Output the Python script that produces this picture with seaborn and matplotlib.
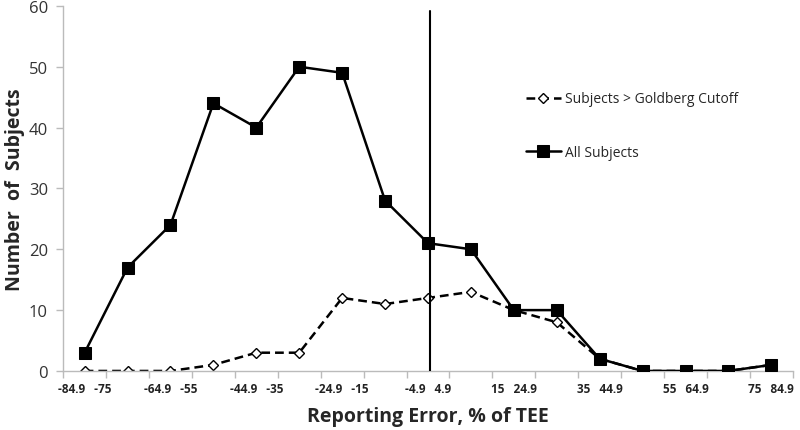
import matplotlib
matplotlib.use("Agg")
import matplotlib.pyplot as plt
import seaborn as sns
import numpy as np
import pandas as pd

bins = ["-84.9   -75", "-74.9   -65", "-64.9   -55", "-54.9   -45", "-44.9   -35",
        "-34.9   -25", "-24.9   -15", "-14.9   -5", "-4.9   4.9", "5   14.9",
        "15   24.9", "25   34.9", "35   44.9", "45   54.9", "55   64.9",
        "65   74.9", "75   84.9"]
all_subjects = [3, 17, 24, 44, 40, 50, 49, 28, 21, 20, 10, 10, 2, 0, 0, 0, 1]
goldberg = [0, 0, 0, 1, 3, 3, 12, 11, 12, 13, 10, 8, 2, 0, 0, 0, 1]

sns.set_theme(style="white")
plt.rcParams['font.family'] = ['Open Sans', 'DejaVu Sans']

fig = plt.figure(figsize=(8, 4.31), dpi=100)
ax = fig.add_axes([0.079, 0.137, 0.912, 0.847])

idx = np.arange(len(bins))
df = pd.DataFrame({"i": idx, "all": all_subjects, "gold": goldberg})

sns.lineplot(data=df, x="i", y="gold", ax=ax, color="black", lw=1.8,
             linestyle=(0, (3.5, 2)), marker="D", markersize=5.5,
             markerfacecolor="white", markeredgecolor="black", markeredgewidth=1,
             label="Subjects > Goldberg Cutoff", zorder=2)
sns.lineplot(data=df, x="i", y="all", ax=ax, color="black", lw=1.8,
             marker="s", markersize=8, markerfacecolor="black",
             markeredgecolor="black", label="All Subjects", zorder=3)

ax.axvline(8.05, color="black", lw=1.5, ymin=0, ymax=0.985, zorder=4)

ax.set_xlim(-0.5, len(bins) - 0.5)
ax.set_ylim(0, 60)
ax.set_yticks(range(0, 61, 10))
ax.set_xticks(idx[::2])
ax.set_xticklabels(bins[::2], fontsize=8.5, fontweight="bold", color="#222222")
ax.set_xticks(np.arange(-0.5, len(bins), 1), minor=True)
ax.tick_params(axis="x", which="major", length=0, pad=8)
ax.tick_params(axis="x", which="minor", length=5, color="#bbbbbb", width=1, direction="out", bottom=True)
ax.tick_params(axis="y", length=5, color="#bbbbbb", width=1, direction="out", left=True,
               labelsize=12, labelcolor="#333333", pad=6)

for s in ["top", "right"]:
    ax.spines[s].set_visible(False)
for s in ["left", "bottom"]:
    ax.spines[s].set_color("#bbbbbb")
    ax.spines[s].set_linewidth(1)

ax.set_xlabel("Reporting Error, % of TEE", fontsize=14, fontweight="bold", labelpad=8)
ax.set_ylabel("Number  of  Subjects", fontsize=14, fontweight="bold", labelpad=3)

leg = ax.legend(loc="upper left", bbox_to_anchor=(0.617, 0.80), frameon=False,
                fontsize=10, labelspacing=2.75, handlelength=2.5, handletextpad=0.3)

fig.savefig("out.png", dpi=100)
